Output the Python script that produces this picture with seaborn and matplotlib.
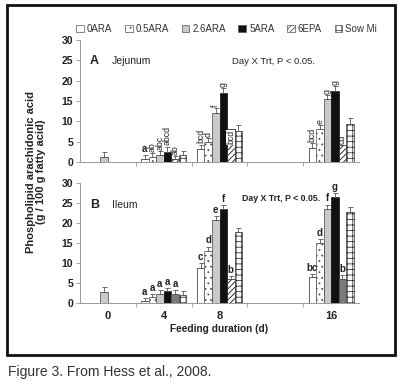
import matplotlib
matplotlib.use("Agg")
import matplotlib.pyplot as plt
import seaborn as sns
import pandas as pd
import numpy as np
from matplotlib.patches import Patch, Rectangle

sns.set_style("white")
plt.rcParams['font.family'] = ['Liberation Sans', 'DejaVu Sans']
plt.rcParams['hatch.linewidth'] = 0.6

days = ['0', '4', '8', '12', '16']
day_labels = ['0', '4', '8', '', '16']
treatments = ['0ARA', '0.5ARA', '2.6ARA', '5ARA', '6EPA', 'Sow Milk']
legend_labels = ['0ARA', '0.5ARA', '2.6ARA', '5ARA', '6EPA', 'Sow Mi']

# Jejunum: values per treatment for days 0,4,8,12,16 (None = not measured)
jej_mean = {
    '0ARA':     [None, 0.8, 3.3, None, 3.4],
    '0.5ARA':   [None, 1.2, 4.9, None, 8.1],
    '2.6ARA':   [1.3, 1.7, 12.0, None, 15.5],
    '5ARA':     [None, 2.5, 17.0, None, 17.5],
    '6EPA':     [None, 0.8, 8.0, None, 4.2],
    'Sow Milk': [None, 1.6, 7.7, None, 9.4],
}
jej_err = {
    '0ARA':     [None, 0.9, 1.0, None, 1.2],
    '0.5ARA':   [None, 0.9, 1.0, None, 1.0],
    '2.6ARA':   [1.1, 1.0, 1.2, None, 1.0],
    '5ARA':     [None, 1.3, 1.1, None, 1.2],
    '6EPA':     [None, 0.6, 0.0, None, 0.0],
    'Sow Milk': [None, 1.1, 1.3, None, 1.4],
}
jej_letters = {
    '0ARA':     [None, 'a', 'bcd', None, 'bcd'],
    '0.5ARA':   [None, 'ab', 'd', None, 'e'],
    '2.6ARA':   [None, 'abc', 'f', None, 'g'],
    '5ARA':     [None, 'abcd', 'g', None, 'g'],
    '6EPA':     [None, 'ab', 'bcd', None, 'cd'],
    'Sow Milk': [None, None, None, None, None],
}
jej_rot = {
    '0ARA':     [False, False, True, False, True],
    '0.5ARA':   [False, True, True, False, True],
    '2.6ARA':   [False, True, True, False, True],
    '5ARA':     [False, True, True, False, True],
    '6EPA':     [False, True, True, False, True],
    'Sow Milk': [False] * 5,
}

# Ileum
ile_mean = {
    '0ARA':     [None, 0.4, 8.7, None, 6.6],
    '0.5ARA':   [None, 1.4, 13.1, None, 15.0],
    '2.6ARA':   [2.8, 2.2, 20.7, None, 23.6],
    '5ARA':     [None, 2.9, 23.5, None, 26.5],
    '6EPA':     [None, 2.3, 5.9, None, 6.1],
    'Sow Milk': [None, 2.1, 17.8, None, 22.7],
}
ile_err = {
    '0ARA':     [None, 0.8, 1.2, None, 0.6],
    '0.5ARA':   [None, 0.8, 1.0, None, 0.9],
    '2.6ARA':   [1.2, 1.0, 1.0, None, 1.0],
    '5ARA':     [None, 0.9, 1.0, None, 1.0],
    '6EPA':     [None, 1.0, 0.8, None, 0.9],
    'Sow Milk': [None, 0.8, 0.9, None, 1.2],
}
ile_letters = {
    '0ARA':     [None, 'a', 'c', None, 'bc'],
    '0.5ARA':   [None, 'a', 'd', None, 'd'],
    '2.6ARA':   [None, 'a', 'e', None, 'f'],
    '5ARA':     [None, 'a', 'f', None, 'g'],
    '6EPA':     [None, 'a', 'b', None, 'b'],
    'Sow Milk': [None, None, None, None, None],
}
# 6EPA drawn as hatch (True) or gray fill (False) per day in ileum
ile_epa_hatch = [True, False, True, True, False]

styles = {
    '0ARA':     dict(facecolor='white', hatch=None, edge='#222222'),
    '0.5ARA':   dict(facecolor='white', hatch='...', edge='#555555'),
    '2.6ARA':   dict(facecolor='#c9c9c9', hatch=None, edge='#444444'),
    '5ARA':     dict(facecolor='#111111', hatch=None, edge='#111111'),
    '6EPA':     dict(facecolor='white', hatch='//////', edge='#111111'),
    'Sow Milk': dict(facecolor='white', hatch='+++', edge='#333333'),
}


def to_df(means):
    rows = []
    for t in treatments:
        for d, v in zip(days, means[t]):
            if v is not None:
                rows.append(dict(day=d, trt=t, value=v))
    return pd.DataFrame(rows)


fig = plt.figure(figsize=(4.01, 3.85), dpi=100)
ax_top = fig.add_axes([80 / 401, 1 - 162 / 385, 279 / 401, 122 / 385])
ax_bot = fig.add_axes([80 / 401, 1 - 303 / 385, 279 / 401, 120 / 385])


def draw(ax, means, errs, letters, rots, epa_hatch):
    df = to_df(means)
    sns.barplot(data=df, x='day', y='value', hue='trt', order=days,
                hue_order=treatments, errorbar=None, width=0.81, dodge=True,
                palette=['white'] * 6, legend=False, ax=ax,
                edgecolor='black', linewidth=0.5)
    for t, cont in zip(treatments, ax.containers):
        present = [i for i, v in enumerate(means[t]) if v is not None]
        for di, patch in zip(present, cont.patches):
            st = styles[t]
            fc, hatch, ec = st['facecolor'], st['hatch'], st['edge']
            if t == '6EPA' and not epa_hatch[di]:
                fc, hatch, ec = '#7a7a7a', None, '#555555'
            patch.set_facecolor(fc)
            patch.set_hatch(hatch)
            patch.set_edgecolor(ec)
            xc = patch.get_x() + patch.get_width() / 2
            h = patch.get_height()
            e = errs[t][di]
            if e:
                ax.errorbar(xc, h, yerr=[[0], [e]], fmt='none', ecolor='#555555',
                            elinewidth=0.6, capsize=1.8, capthick=0.6)
            lab = letters[t][di]
            if lab:
                rot = rots[t][di] if rots else False
                top = h + (e or 0)
                if t == '6EPA' and rot and e == 0 and h > 6:
                    ax.text(xc, h - 0.2, lab, rotation=90, ha='center', va='top',
                            fontsize=6.3, color='#222222',
                            bbox=dict(facecolor='white', edgecolor='none', pad=0.1))
                elif rot:
                    ax.text(xc, top + 0.3, lab, rotation=90, ha='center',
                            va='bottom', fontsize=6.3, color='#222222')
                else:
                    ax.text(xc, top + 0.3, lab, ha='center', va='bottom',
                            fontsize=7, color='#222222', fontweight='bold')
    ax.set_ylim(0, 30)
    ax.set_xlim(-0.5, 4.5)
    ax.set_yticks(np.arange(0, 31, 5))
    ax.set_xlabel('')
    ax.set_ylabel('')
    for s in ['top', 'right']:
        ax.spines[s].set_visible(False)
    for s in ['left', 'bottom']:
        ax.spines[s].set_color('#999999')
        ax.spines[s].set_linewidth(0.7)
    ax.tick_params(axis='y', left=True, length=3, width=0.6, color='#999999',
                   labelsize=7.5, pad=2)
    for lbl in ax.get_yticklabels():
        lbl.set_fontweight('bold')
        lbl.set_color('#222222')
    ax.set_xticks(np.arange(0.5, 4.5, 1.0), minor=True)
    ax.tick_params(axis='x', which='minor', bottom=True, length=3, width=0.6,
                   color='#999999')
    ax.tick_params(axis='x', which='major', bottom=False, length=0)


draw(ax_top, jej_mean, jej_err, jej_letters, jej_rot, [True] * 5)
draw(ax_bot, ile_mean, ile_err, ile_letters, None, ile_epa_hatch)

ax_top.set_xticklabels([''] * 5)
ax_bot.set_xticks(range(5))
ax_bot.set_xticklabels(day_labels, fontsize=8, fontweight='bold', color='#222222')
ax_bot.tick_params(axis='x', which='major', pad=6)
ax_bot.set_xlabel('Feeding duration (d)', fontsize=7.3, fontweight='bold',
                  color='#222222', labelpad=2)

ax_top.text(0.035, 0.80, 'A', transform=ax_top.transAxes, fontsize=9,
            fontweight='bold', color='#222222')
ax_top.text(0.115, 0.80, 'Jejunum', transform=ax_top.transAxes, fontsize=7.5,
            color='#222222')
ax_top.text(0.545, 0.80, 'Day X Trt, P < 0.05.', transform=ax_top.transAxes,
            fontsize=6.8, color='#222222')
ax_bot.text(0.035, 0.79, 'B', transform=ax_bot.transAxes, fontsize=9,
            fontweight='bold', color='#222222')
ax_bot.text(0.115, 0.79, 'Ileum', transform=ax_bot.transAxes, fontsize=7.5,
            color='#222222')
ax_bot.text(0.58, 0.85, 'Day X Trt, P < 0.05.', transform=ax_bot.transAxes,
            fontsize=6.3, color='#222222', fontweight='bold')

fig.text(0.09, 1 - 172 / 385,
         'Phospholipid arachidonic acid\n(g / 100 g fatty acid)',
         rotation=90, ha='center', va='center', fontsize=8, fontweight='bold',
         color='#222222', linespacing=1.1)

handles = []
for t in treatments:
    st = styles[t]
    handles.append(Patch(facecolor=st['facecolor'], hatch=st['hatch'],
                         edgecolor='#555555', linewidth=0.5))
fig.legend(handles, legend_labels, loc='center', bbox_to_anchor=(0.565, 1 - 29 / 385),
           ncol=6, frameon=False, fontsize=7, handlelength=0.8, handleheight=0.8,
           handletextpad=0.3, columnspacing=1.3, labelcolor='#333333')

fig.patches.append(Rectangle((7 / 401, 1 - 355 / 385), 388 / 401, 350 / 385,
                             transform=fig.transFigure, fill=False,
                             edgecolor='#111111', linewidth=2.0))
fig.text(8 / 401, 1 - 372 / 385, 'Figure 3. From Hess et al., 2008.', fontsize=10,
         va='center', ha='left', color='#333333')

fig.savefig('out.png', dpi=100)
